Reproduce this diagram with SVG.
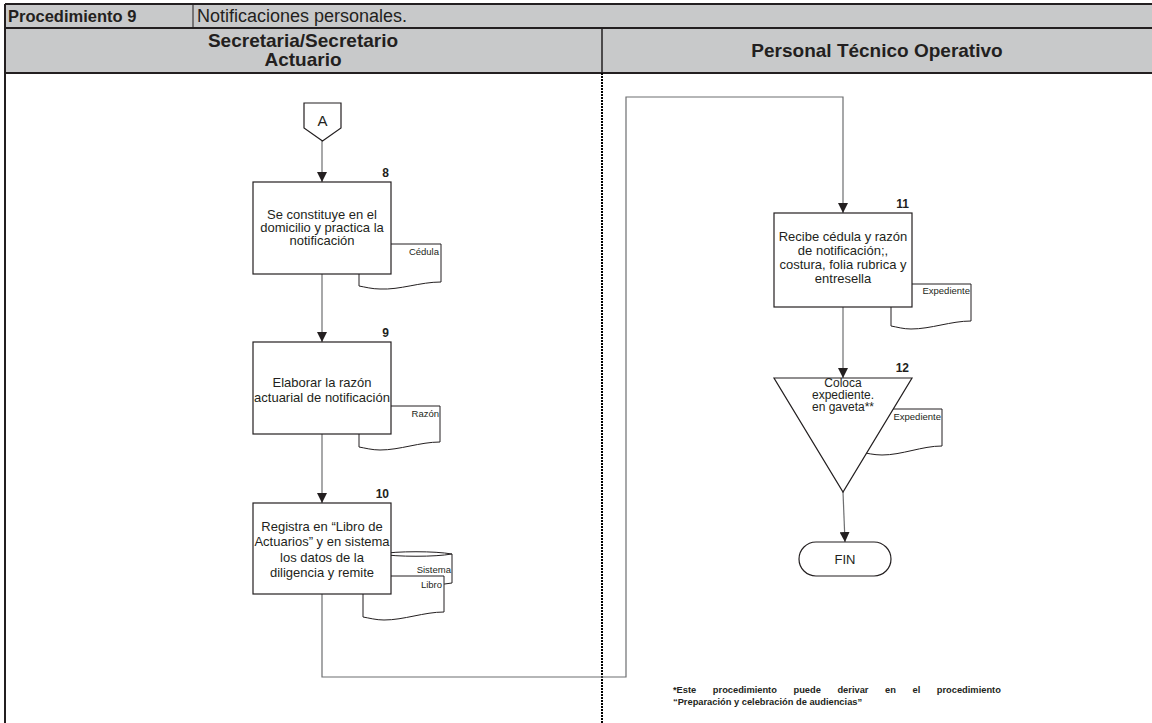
<svg xmlns="http://www.w3.org/2000/svg" width="1152" height="723" viewBox="0 0 1152 723">
  <style>
    .hdr { fill: #c8c9ca; stroke: none; }
    .rule { stroke: #231f20; stroke-width: 2; fill: none; }
    .box { fill: #ffffff; stroke: #231f20; stroke-width: 1.2; }
    .doc { fill: #ffffff; stroke: #231f20; stroke-width: 1; }
    .conn { fill: none; stroke: #6d6e70; stroke-width: 1.2; }
    .t { font-family: "Liberation Sans", Arial, sans-serif; fill: #231f20; }
    .h { font-size: 19px; font-weight: bold; }
    .body { font-size: 13px; text-anchor: middle; }
    .num { font-size: 12px; font-weight: bold; text-anchor: end; }
    .lbl { font-size: 9.5px; text-anchor: end; }
    .note { font-size: 9.3px; font-weight: bold; }
  </style>
  <defs>
    <marker id="arrow" viewBox="0 0 10 10" refX="10" refY="5" markerWidth="10" markerHeight="10" markerUnits="userSpaceOnUse" orient="auto">
      <path d="M0,0 L10,5 L0,10 Z" fill="#231f20"/>
    </marker>
  </defs>

  <rect width="1152" height="723" fill="#ffffff"/>

  <!-- header table -->
  <g id="header">
    <rect class="hdr" x="5" y="4" width="1147" height="69"/>
    <line class="rule" x1="5" y1="4" x2="1152" y2="4"/>
    <line class="rule" x1="5" y1="28" x2="1152" y2="28"/>
    <line class="rule" x1="5" y1="73" x2="1152" y2="73"/>
    <line class="rule" x1="5" y1="4" x2="5" y2="723"/>
    <line x1="193" y1="4" x2="193" y2="28" stroke="#231f20" stroke-width="1"/>
    <line x1="602" y1="28" x2="602" y2="73" stroke="#231f20" stroke-width="1.5"/>
    <text class="t" x="8" y="22" font-size="16.5" font-weight="bold">Procedimiento 9</text>
    <text class="t" x="197" y="22" font-size="18">Notificaciones personales.</text>
    <text class="t h" x="303" y="47" text-anchor="middle">Secretaria/Secretario</text>
    <text class="t h" x="303" y="66" text-anchor="middle">Actuario</text>
    <text class="t h" x="877" y="57" text-anchor="middle">Personal Técnico Operativo</text>
  </g>

  <!-- lane divider -->
  <line id="lane-divider" x1="602" y1="73" x2="602" y2="723" stroke="#000" stroke-width="2" stroke-dasharray="2,1"/>

  <!-- connectors -->
  <g id="connectors">
    <line class="conn" x1="322" y1="141" x2="322" y2="182" marker-end="url(#arrow)"/>
    <line class="conn" x1="322" y1="274" x2="322" y2="342" marker-end="url(#arrow)"/>
    <line class="conn" x1="322" y1="434" x2="322" y2="503" marker-end="url(#arrow)"/>
    <polyline class="conn" points="322,594 322,677 626,677 626,97 843,97 843,213" marker-end="url(#arrow)"/>
    <line class="conn" x1="843" y1="307" x2="843" y2="378" marker-end="url(#arrow)"/>
    <line class="conn" x1="843" y1="492" x2="845" y2="542" marker-end="url(#arrow)"/>
  </g>

  <!-- off-page connector A -->
  <g id="node-A">
    <path class="box" d="M304,103 H341 V128 L322.5,141 L304,128 Z"/>
    <text class="t" x="322.5" y="126" font-size="15" text-anchor="middle">A</text>
  </g>

  <!-- step 8 -->
  <g id="node-8">
    <path class="doc" d="M359,244 H441 V282 C420,282 400,290 380,289 C372,289 365,287 359,286 Z"/>
    <text class="t lbl" x="439" y="255">Cédula</text>
    <rect class="box" x="253" y="182" width="138" height="92"/>
    <text class="t num" x="389" y="177">8</text>
    <text class="t body" x="322" y="219">Se constituye en el</text>
    <text class="t body" x="322" y="232">domicilio y practica la</text>
    <text class="t body" x="322" y="245">notificación</text>
  </g>

  <!-- step 9 -->
  <g id="node-9">
    <path class="doc" d="M359,406 H440 V442 C420,442 400,450 380,450 C372,450 365,448 359,447 Z"/>
    <text class="t lbl" x="439" y="417">Razón</text>
    <rect class="box" x="253" y="342" width="138" height="92"/>
    <text class="t num" x="389" y="337">9</text>
    <text class="t body" x="322" y="387">Elaborar la razón</text>
    <text class="t body" x="322" y="402">actuarial de notificación</text>
  </g>

  <!-- step 10 -->
  <g id="node-10">
    <path class="doc" d="M380,554 A46,6 0 0 1 452,554 V583 A46,6 0 0 1 380,583 Z"/>
    <path class="doc" d="M380,554 A46,6 0 0 0 452,554" fill="none"/>
    <text class="t lbl" x="451" y="573">Sistema</text>
    <path class="doc" d="M363,576 H444 V612 C424,612 404,620 384,620 C376,620 369,618 363,617 Z"/>
    <text class="t lbl" x="442" y="588">Libro</text>
    <rect class="box" x="253" y="503" width="138" height="91"/>
    <text class="t num" x="389" y="498">10</text>
    <text class="t body" x="322" y="531">Registra en “Libro de</text>
    <text class="t body" x="322" y="546">Actuarios” y en sistema</text>
    <text class="t body" x="322" y="562">los datos de la</text>
    <text class="t body" x="322" y="577">diligencia y remite</text>
  </g>

  <!-- step 11 -->
  <g id="node-11">
    <path class="doc" d="M891,284 H971 V321 C951,321 931,329 911,329 C903,329 897,327 891,326 Z"/>
    <text class="t lbl" x="970" y="294">Expediente</text>
    <rect class="box" x="774" y="213" width="138" height="94"/>
    <text class="t num" x="909" y="208">11</text>
    <text class="t body" x="843" y="241">Recibe cédula y razón</text>
    <text class="t body" x="843" y="255">de notificación;,</text>
    <text class="t body" x="843" y="269">costura, folia rubrica y</text>
    <text class="t body" x="843" y="283">entresella</text>
  </g>

  <!-- step 12 -->
  <g id="node-12">
    <path class="doc" d="M860,409 H942 V446 C922,446 902,455 882,455 C874,455 866,453 860,452 Z"/>
    <text class="t lbl" x="941" y="420">Expediente</text>
    <path class="box" d="M774,378 H912 L843,492 Z"/>
    <text class="t num" x="909" y="372">12</text>
    <text class="t" x="843" y="387" font-size="12" text-anchor="middle">Coloca</text>
    <text class="t" x="843" y="399" font-size="12" text-anchor="middle">expediente.</text>
    <text class="t" x="843" y="411" font-size="12" text-anchor="middle">en gaveta**</text>
  </g>

  <!-- end terminator -->
  <g id="node-fin">
    <rect class="box" x="799" y="542" width="92" height="34" rx="17" ry="17"/>
    <text class="t" x="845" y="564" font-size="13" text-anchor="middle">FIN</text>
  </g>

  <!-- footnote (first line justified) -->
  <g id="footnote">
    <text class="t note" x="673" y="693" word-spacing="14">*Este procedimiento puede derivar en el procedimiento</text>
    <text class="t note" x="673" y="705">“Preparación y celebración de audiencias”</text>
  </g>
</svg>
